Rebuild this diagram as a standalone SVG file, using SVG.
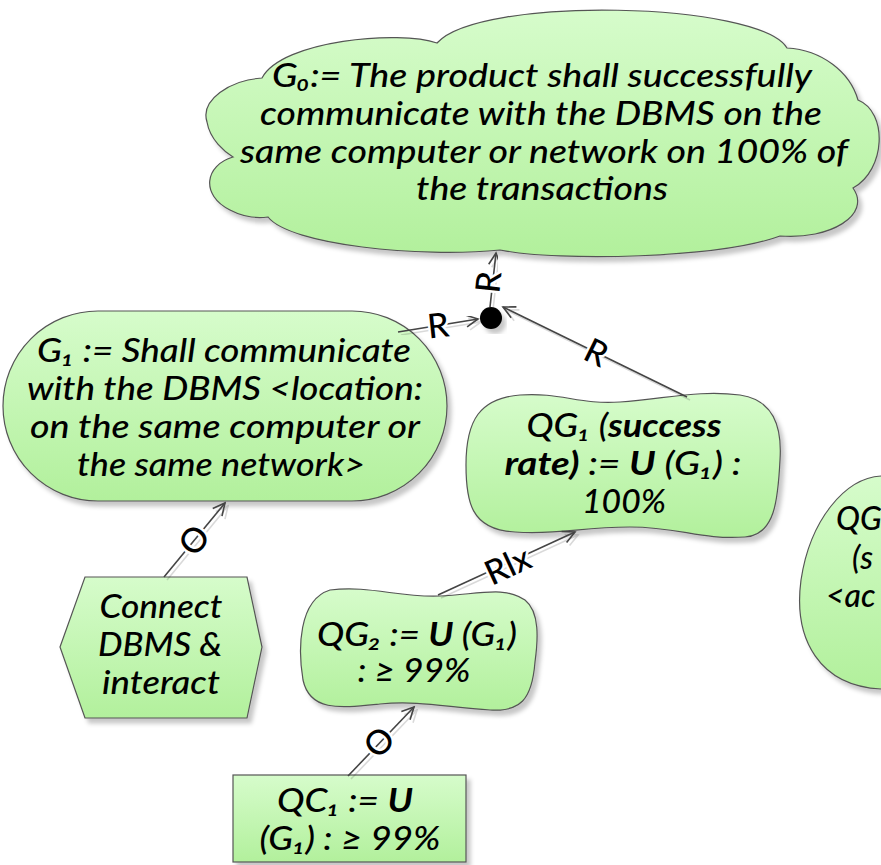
<svg xmlns="http://www.w3.org/2000/svg" width="881" height="865" viewBox="0 0 881 865">
<style>
.t{font-family:Lato,"Open Sans","Liberation Sans",sans-serif;font-style:italic;font-weight:500;font-size:32px;fill:#000;text-anchor:middle}
.b{font-weight:bold}
.node{fill:url(#g);stroke:#555;stroke-width:1.2;filter:url(#sh)}
.edge{fill:none;stroke:#444;stroke-width:1.6;marker-end:url(#arr);filter:url(#lsh)}
.lbl{font-family:Lato,"Open Sans","Liberation Sans",sans-serif;font-weight:500;font-size:34px;fill:#000;stroke:#fff;stroke-width:5;paint-order:stroke;text-anchor:middle;dominant-baseline:central}
</style>
<defs>
<linearGradient id="g" x1="0" y1="0" x2="0" y2="1">
<stop offset="0" stop-color="#d6fccb"/>
<stop offset="1" stop-color="#b2f09c"/>
</linearGradient>
<filter id="sh" x="-10%" y="-10%" width="130%" height="130%">
<feDropShadow dx="4" dy="5" stdDeviation="2" flood-color="#000" flood-opacity="0.22"/>
</filter>
<filter id="lsh" x="-20%" y="-20%" width="140%" height="140%">
<feDropShadow dx="3" dy="3" stdDeviation="0.6" flood-color="#000" flood-opacity="0.15"/>
</filter>
<marker id="arr" markerUnits="userSpaceOnUse" markerWidth="16" markerHeight="16" viewBox="-14 -8 16 16" refX="0" refY="0" orient="auto">
<path d="M-12,-6 L0,0 L-12,6" fill="none" stroke="#444" stroke-width="1.6"/>
</marker>
</defs>

<g id="G0">
<path class="node" d="M262,78 C230,80 200,100 207,122 C210,140 225,152 233,157 C205,165 200,195 230,210 C245,218 260,218 268,217 C290,245 420,258 500,250 C560,262 720,258 780,236 C830,240 872,215 853,188 C886,170 888,112 858,100 C850,72 822,50 787,48 C760,2 480,-5 437,43 C400,30 282,40 262,78 Z"/>
<text class="t" x="542" y="87" textLength="540" lengthAdjust="spacingAndGlyphs">G₀:= The product shall successfully</text>
<text class="t" x="541" y="125" textLength="562" lengthAdjust="spacingAndGlyphs">communicate with the DBMS on the</text>
<text class="t" x="544" y="163" textLength="608" lengthAdjust="spacingAndGlyphs">same computer or network on 100% of</text>
<text class="t" x="542" y="200" textLength="252" lengthAdjust="spacingAndGlyphs">the transactions</text>
</g>

<g id="G1">
<rect class="node" x="3" y="311" width="444" height="190" rx="95" ry="95"/>
<text class="t" x="224" y="362" textLength="374" lengthAdjust="spacingAndGlyphs">G₁ := Shall communicate</text>
<text class="t" x="225" y="400" textLength="396" lengthAdjust="spacingAndGlyphs">with the DBMS &lt;location:</text>
<text class="t" x="225" y="438" textLength="390" lengthAdjust="spacingAndGlyphs">on the same computer or</text>
<text class="t" x="221" y="476" textLength="288" lengthAdjust="spacingAndGlyphs">the same network&gt;</text>
</g>

<g id="QG1">
<path class="node" d="M520,395 C560,392 580,405 620,402 C670,398 700,390 740,395 C775,400 782,430 780,460 C778,500 775,535 745,537 C700,540 680,527 630,527 C580,527 560,535 515,532 C470,530 466,500 466,465 C466,420 480,398 520,395 Z"/>
<text class="t" x="624" y="437" textLength="195" lengthAdjust="spacingAndGlyphs">QG₁ (<tspan class="b">success</tspan></text>
<text class="t" x="623" y="475" textLength="237" lengthAdjust="spacingAndGlyphs"><tspan class="b">rate)</tspan> := <tspan class="b">U</tspan> (G₁) :</text>
<text class="t" x="624" y="513" textLength="84" lengthAdjust="spacingAndGlyphs">100%</text>
</g>

<g id="QG2">
<path class="node" d="M330,590 C370,585 400,598 440,596 C480,594 505,586 525,600 C540,612 538,640 535,662 C532,700 520,712 490,710 C450,708 420,700 380,704 C340,708 310,712 303,680 C298,650 298,600 330,590 Z"/>
<text class="t" x="417" y="646" textLength="200" lengthAdjust="spacingAndGlyphs">QG₂ := <tspan class="b">U</tspan> (G₁)</text>
<text class="t" x="414" y="682" textLength="113" lengthAdjust="spacingAndGlyphs">: ≥ 99%</text>
</g>

<g id="Connect">
<polygon class="node" points="60,647 85,577 247,577 262,647 247,718 85,718"/>
<text class="t" x="161" y="618" textLength="123" lengthAdjust="spacingAndGlyphs">Connect</text>
<text class="t" x="160" y="656" textLength="124" lengthAdjust="spacingAndGlyphs">DBMS &amp;</text>
<text class="t" x="161" y="694" textLength="118" lengthAdjust="spacingAndGlyphs">interact</text>
</g>

<g id="QC1">
<rect class="node" x="233" y="775" width="233" height="87"/>
<text class="t" x="345" y="812" textLength="136" lengthAdjust="spacingAndGlyphs">QC₁ := <tspan class="b">U</tspan></text>
<text class="t" x="350" y="850" textLength="181" lengthAdjust="spacingAndGlyphs">(G₁) : ≥ 99%</text>
</g>

<g id="QG3">
<path class="node" d="M881,476 C845,478 810,520 801,580 C793,640 820,686 881,689 L900,689 L900,476 Z"/>
<text class="t" x="836" y="530" style="text-anchor:start">QG</text>
<text class="t" x="852" y="569" style="text-anchor:start">(s</text>
<text class="t" x="826" y="607" style="text-anchor:start">&lt;ac</text>
</g>

<g id="AND">
<circle cx="491" cy="318" r="11" fill="#000" filter="url(#sh)"/>
</g>

<g id="connectors">
<path class="edge" d="M490,307 L496,253"/>
<text class="lbl" transform="translate(487,282) rotate(-84)">R</text>
<path class="edge" d="M398,332 L478,319"/>
<text class="lbl" transform="translate(438,324) rotate(-6)">R</text>
<path class="edge" d="M687,397 L503,307"/>
<text class="lbl" transform="translate(597,351) rotate(26)">R</text>
<path class="edge" d="M438,595 L575,532"/>
<text class="lbl" transform="translate(507,564) rotate(-25)">Rlx</text>
<path class="edge" d="M164,577 L225,503"/>
<text class="lbl" transform="translate(193,539) rotate(-50)">O</text>
<path class="edge" d="M348,776 L414,707"/>
<text class="lbl" transform="translate(378,741) rotate(-46)">O</text>
</g>
</svg>
